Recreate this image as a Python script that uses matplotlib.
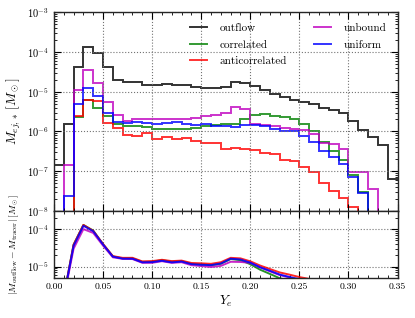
import numpy as np
import matplotlib
matplotlib.use('Agg')
from matplotlib import pyplot as plt
from matplotlib.ticker import MultipleLocator, LogLocator, NullFormatter

plt.rcParams['font.family'] = ['cmr10', 'DejaVu Serif']
plt.rcParams['mathtext.fontset'] = 'cm'
plt.rcParams['axes.formatter.use_mathtext'] = True

# Ye bin edges 0.00 .. 0.35, width 0.01
ye_edges = np.round(np.arange(0, 0.351, 0.01), 2)

# ejecta mass per Ye bin [Msun]
outflow = [1.45e-7, 1.58e-6, 4.1e-5, 1.36e-4, 9.6e-5, 4.2e-5, 2.03e-5, 1.8e-5, 1.8e-5, 1.47e-5,
           1.47e-5, 1.6e-5, 1.47e-5, 1.52e-5, 1.31e-5, 1.28e-5, 1.24e-5, 1.35e-5, 1.76e-5, 1.7e-5,
           1.42e-5, 1.1e-5, 8.9e-6, 7.2e-6, 6.3e-6, 5.4e-6, 4.8e-6, 4.0e-6, 3.45e-6, 2.9e-6,
           1.8e-6, 1.07e-6, 7.2e-7, 4.5e-7, 6.3e-8]
correlated = [0, 0, 2.3e-6, 6.1e-6, 4.0e-6, 2.4e-6, 1.58e-6, 1.38e-6, 1.38e-6, 1.3e-6,
              1.15e-6, 1.12e-6, 1.12e-6, 1.14e-6, 1.2e-6, 1.38e-6, 1.45e-6, 1.55e-6, 1.58e-6, 2.1e-6,
              2.55e-6, 2.7e-6, 2.5e-6, 2.3e-6, 2.1e-6, 1.55e-6, 1.0e-6, 5.5e-7, 3.3e-7, 1.9e-7,
              7.8e-8, 3.0e-8, 0, 0, 0]
anticorrelated = [0, 0, 2.5e-6, 6.1e-6, 5.9e-6, 1.66e-6, 1.19e-6, 8.1e-7, 7.7e-7, 8.9e-7,
                  6.4e-7, 7.4e-7, 6.3e-7, 6.9e-7, 5.6e-7, 5.2e-7, 5.0e-7, 3.55e-7, 3.9e-7, 3.55e-7,
                  3.4e-7, 2.9e-7, 2.65e-7, 1.9e-7, 1.85e-7, 1.27e-7, 9.6e-8, 5.0e-8, 3.2e-8, 2.1e-8,
                  1.25e-8, 0, 0, 0, 0]
unbound = [0, 1.45e-7, 1.08e-5, 3.55e-5, 1.65e-5, 5.5e-6, 2.55e-6, 1.85e-6, 2.04e-6, 2.04e-6,
           2.04e-6, 2.0e-6, 2.07e-6, 2.07e-6, 2.15e-6, 2.4e-6, 2.6e-6, 3.0e-6, 4.1e-6, 3.65e-6,
           1.5e-6, 1.45e-6, 1.4e-6, 1.25e-6, 1.15e-6, 1.1e-6, 8.6e-7, 5.0e-7, 4.7e-7, 3.7e-7,
           9.6e-8, 9.6e-8, 3.5e-8, 0, 0]
uniform = [0, 2.3e-8, 4.8e-6, 1.26e-5, 7.8e-6, 2.97e-6, 1.74e-6, 1.64e-6, 1.7e-6, 1.66e-6,
           1.5e-6, 1.65e-6, 1.7e-6, 1.52e-6, 1.44e-6, 1.58e-6, 1.4e-6, 1.36e-6, 1.3e-6, 1.47e-6,
           1.45e-6, 1.36e-6, 1.15e-6, 1.05e-6, 1.0e-6, 7.6e-7, 5.5e-7, 3.3e-7, 2.3e-7, 1.55e-7,
           7.3e-8, 2.85e-8, 0, 0, 0]

labels = ['outflow', 'correlated', 'anticorrelated', 'unbound', 'uniform']
colors = ['k', 'g', 'r', 'm', 'b']


def style_axis(ax):
    ax.tick_params(which='both', direction='in', top=True, right=True, labelsize=7.5)
    ax.tick_params(axis='x', labelsize=7)
    ax.tick_params(which='major', length=5, width=0.8)
    ax.tick_params(which='minor', length=2.5, width=0.6)
    ax.grid(True, which='major', linestyle=':', color='0.45', linewidth=0.8)
    for s in ax.spines.values():
        s.set_linewidth(1.0)
        s.set_color('0.15')


fig = plt.figure(figsize=(4.15, 3.18), dpi=100)
gs = fig.add_gridspec(2, 1, height_ratios=[198, 67], hspace=0,
                      left=0.130, right=0.958, top=0.961, bottom=0.126)
ax1 = fig.add_subplot(gs[0])
ax2 = fig.add_subplot(gs[1], sharex=ax1)

series = [outflow, correlated, anticorrelated, unbound, uniform]
for vals, lab, col in zip(series, labels, colors):
    v = np.array(vals, dtype=float)
    v = np.where(v > 0, v, 1e-12)  # empty bins drop below the axis
    ax1.stairs(v, ye_edges, baseline=None, color=col, lw=1.4, alpha=0.8, label=lab)

ax1.set_yscale('log')
ax1.set_ylim(1e-8, 1e-3)
ax1.set_xlim(0, 0.35)
ax1.set_ylabel(r'$M_{ej,*}\,[M_\odot]$', fontsize=9.5, labelpad=3)
ax1.xaxis.set_major_locator(MultipleLocator(0.05))
ax1.xaxis.set_minor_locator(MultipleLocator(0.01))
ax1.yaxis.set_minor_locator(LogLocator(base=10, subs=np.arange(2, 10), numticks=20))
ax1.yaxis.set_minor_formatter(NullFormatter())
plt.setp(ax1.get_xticklabels(), visible=False)
style_axis(ax1)
ax1.legend(loc='upper right', ncol=2, frameon=False, fontsize=8, handlelength=1.6,
           handletextpad=1.1, columnspacing=2.4, labelspacing=0.6, borderaxespad=0.6)

# difference between outflow and each tracer, at bin left edges
out_arr = np.array(outflow)
for vals, col in zip(series[1:], colors[1:]):
    diff = np.abs(out_arr - np.array(vals))
    ax2.plot(ye_edges[:-1], diff, color=col, lw=1.4, alpha=0.85)

ax2.set_yscale('log')
ax2.set_ylim(5e-6, 3.1e-4)
ax2.set_xlim(0, 0.35)
ax2.set_xlabel(r'$Y_e$', fontsize=9.5, labelpad=2)
ax2.set_ylabel(r'$|M_{\rm outflow}-M_{\rm tracer}|\,[M_\odot]$', fontsize=7)
ax2.xaxis.set_major_formatter(plt.FuncFormatter(lambda v, p: '%.2f' % v))
ax2.yaxis.set_minor_locator(LogLocator(base=10, subs=np.arange(2, 10), numticks=20))
ax2.yaxis.set_minor_formatter(NullFormatter())
style_axis(ax2)

fig.align_ylabels([ax1, ax2])
fig.savefig('out.png', dpi=100)
